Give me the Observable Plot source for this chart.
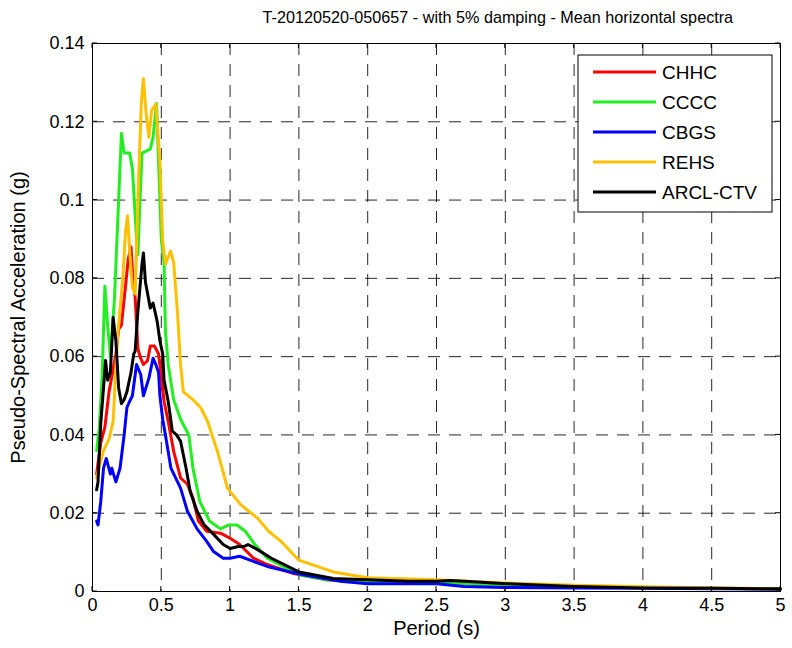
<!DOCTYPE html>
<html>
<head>
<meta charset="utf-8">
<script src="https://cdn.jsdelivr.net/npm/d3@7"></script>
<script src="https://cdn.jsdelivr.net/npm/@observablehq/plot@0.6"></script>
<style>
  html, body { margin: 0; padding: 0; background: #fff; }
  #chart { width: 792px; height: 648px; position: relative; }
</style>
</head>
<body>
<div id="chart"></div>
<script>
const titleText = "T-20120520-050657 - with 5% damping - Mean horizontal spectra";
const xLabel = "Period (s)";
const yLabel = "Pseudo-Spectral Acceleration (g)";

const seriesNames = ["CHHC", "CCCC", "CBGS", "REHS", "ARCL-CTV"];
const seriesColors = ["#ff0000", "#22ee22", "#0000ff", "#ffc000", "#000000"];

const xTicks = [0, 0.5, 1, 1.5, 2, 2.5, 3, 3.5, 4, 4.5, 5];
const xTickLabels = ["0", "0.5", "1", "1.5", "2", "2.5", "3", "3.5", "4", "4.5", "5"];
const yTicks = [0, 0.02, 0.04, 0.06, 0.08, 0.1, 0.12, 0.14];
const yTickLabels = ["0", "0.02", "0.04", "0.06", "0.08", "0.1", "0.12", "0.14"];

// [period (s), PSA (g)]
const CHHC = [[0.03,0.030],[0.06,0.038],[0.09,0.042],[0.12,0.051],[0.17,0.0607],[0.19,0.067],[0.21,0.068],[0.24,0.078],[0.26,0.085],[0.28,0.088],[0.29,0.082],[0.31,0.075],[0.33,0.062],[0.35,0.0596],[0.37,0.058],[0.40,0.059],[0.42,0.0627],[0.45,0.0627],[0.48,0.0607],[0.50,0.055],[0.52,0.0486],[0.55,0.0435],[0.59,0.0358],[0.64,0.029],[0.69,0.0274],[0.73,0.0238],[0.77,0.018],[0.83,0.0154],[0.93,0.0149],[1.0,0.0136],[1.07,0.012],[1.17,0.0085],[1.27,0.0069],[1.46,0.0046],[1.7,0.003],[2.0,0.0025],[2.5,0.0022],[3.0,0.0018],[3.5,0.0012],[4.0,0.001],[4.5,0.0008],[5.0,0.0007]];

const CCCC = [[0.03,0.036],[0.05,0.042],[0.07,0.055],[0.09,0.078],[0.11,0.068],[0.13,0.060],[0.16,0.075],[0.19,0.100],[0.21,0.117],[0.23,0.112],[0.27,0.112],[0.29,0.108],[0.32,0.090],[0.33,0.086],[0.345,0.100],[0.36,0.112],[0.42,0.113],[0.44,0.116],[0.465,0.1247],[0.48,0.110],[0.50,0.090],[0.52,0.084],[0.53,0.0665],[0.55,0.058],[0.59,0.049],[0.64,0.044],[0.70,0.040],[0.73,0.0315],[0.78,0.023],[0.85,0.018],[0.93,0.016],[0.99,0.017],[1.05,0.017],[1.11,0.0154],[1.18,0.012],[1.27,0.0085],[1.5,0.0043],[1.7,0.003],[2.0,0.0026],[2.5,0.0022],[3.0,0.0017],[3.5,0.0012],[4.0,0.001],[4.5,0.0008],[5.0,0.0007]];

const CBGS = [[0.03,0.018],[0.04,0.017],[0.06,0.023],[0.08,0.0315],[0.10,0.034],[0.13,0.030],[0.14,0.0315],[0.17,0.028],[0.20,0.0315],[0.23,0.040],[0.25,0.047],[0.27,0.0486],[0.29,0.050],[0.32,0.058],[0.35,0.0555],[0.37,0.050],[0.41,0.0545],[0.44,0.0596],[0.46,0.058],[0.48,0.056],[0.49,0.050],[0.51,0.044],[0.53,0.040],[0.57,0.0315],[0.64,0.0264],[0.69,0.0205],[0.76,0.016],[0.83,0.0128],[0.88,0.0102],[0.95,0.0085],[1.0,0.0085],[1.07,0.009],[1.17,0.0077],[1.27,0.0064],[1.51,0.0044],[1.8,0.0026],[2.0,0.002],[2.5,0.002],[2.7,0.0013],[3.0,0.001],[3.5,0.0009],[4.0,0.0008],[4.5,0.0007],[5.0,0.0006]];

const REHS = [[0.03,0.029],[0.05,0.032],[0.08,0.036],[0.12,0.039],[0.15,0.0435],[0.18,0.064],[0.22,0.080],[0.24,0.092],[0.255,0.096],[0.27,0.087],[0.29,0.0776],[0.31,0.076],[0.33,0.100],[0.355,0.125],[0.37,0.131],[0.39,0.122],[0.41,0.116],[0.43,0.123],[0.46,0.1245],[0.49,0.110],[0.51,0.0896],[0.53,0.0837],[0.567,0.087],[0.59,0.084],[0.618,0.071],[0.64,0.058],[0.66,0.051],[0.73,0.049],[0.785,0.047],[0.836,0.0435],[0.908,0.0358],[0.981,0.0264],[1.076,0.0222],[1.2,0.0187],[1.28,0.0154],[1.37,0.0128],[1.5,0.008],[1.75,0.005],[2.0,0.0035],[2.2,0.0033],[2.5,0.003],[3.0,0.0022],[3.5,0.0016],[4.0,0.0012],[4.5,0.0009],[5.0,0.0007]];

const ARCL_CTV = [[0.03,0.026],[0.04,0.028],[0.06,0.043],[0.08,0.052],[0.095,0.059],[0.11,0.054],[0.13,0.056],[0.15,0.070],[0.17,0.064],[0.19,0.052],[0.21,0.048],[0.23,0.049],[0.25,0.051],[0.28,0.056],[0.30,0.0607],[0.31,0.0614],[0.33,0.0717],[0.36,0.0837],[0.37,0.0865],[0.385,0.079],[0.42,0.0724],[0.44,0.0737],[0.47,0.069],[0.49,0.064],[0.51,0.0607],[0.52,0.054],[0.55,0.0486],[0.58,0.041],[0.61,0.040],[0.64,0.0384],[0.68,0.0315],[0.71,0.0256],[0.76,0.0205],[0.81,0.0171],[0.88,0.0146],[0.95,0.012],[1.0,0.011],[1.06,0.0115],[1.1,0.0115],[1.13,0.012],[1.2,0.0107],[1.3,0.0085],[1.5,0.005],[1.75,0.0033],[2.0,0.003],[2.3,0.0026],[2.5,0.0026],[2.6,0.0028],[2.8,0.0024],[3.0,0.002],[3.5,0.0013],[4.0,0.0009],[4.5,0.0008],[5.0,0.0007]];

const seriesData = [CHHC, CCCC, CBGS, REHS, ARCL_CTV];
const rows = seriesData.flatMap((arr, i) => arr.map(([t, a]) => ({series: seriesNames[i], t, a})));

const FONT = "'Liberation Sans', Arial, Helvetica, sans-serif";

const plot = Plot.plot({
  width: 792,
  height: 648,
  marginLeft: 92,
  marginRight: 12,
  marginTop: 43,
  marginBottom: 57,
  style: {fontFamily: FONT, fontSize: "18px", background: "#fff", color: "#000"},
  x: {domain: [0, 5]},
  y: {domain: [0, 0.14]},
  color: {domain: seriesNames, range: seriesColors},
  marks: [
    Plot.gridX(xTicks, {stroke: "#000", strokeOpacity: 0.85, strokeDasharray: "12,9", strokeWidth: 1}),
    Plot.gridY(yTicks, {stroke: "#000", strokeOpacity: 0.85, strokeDasharray: "12,9", strokeWidth: 1}),
    Plot.axisX(xTicks, {anchor: "bottom", tickSize: 0, tickPadding: 7, tickFormat: (d, i) => xTickLabels[i], label: null, fontSize: 18}),
    Plot.axisY(yTicks, {anchor: "left", tickSize: 0, tickPadding: 8, tickFormat: (d, i) => yTickLabels[i], label: null, fontSize: 18}),
    Plot.line(rows, {x: "t", y: "a", z: "series", stroke: "series", strokeWidth: 3, curve: "linear"}),
    Plot.frame({stroke: "#000", strokeWidth: 1}),
    Plot.text([titleText], {frameAnchor: "top-left", textAnchor: "start", dx: 170, dy: -32, fontSize: 16.2}),
    Plot.text([xLabel], {frameAnchor: "bottom", textAnchor: "middle", dy: 43, fontSize: 20}),
    Plot.text([yLabel], {frameAnchor: "left", textAnchor: "middle", rotate: -90, dx: -74, fontSize: 20})
  ]
});

document.getElementById("chart").appendChild(plot);

// inward tick marks on all four sides
const svg = d3.select(plot);
const xs = plot.scale("x"), ys = plot.scale("y");
const L = 92, R = 780, T = 43, B = 591, tk = 5;
const tg = svg.append("g").attr("stroke", "#000").attr("stroke-width", 1);
xTicks.forEach(v => {
  const px = xs.apply(v);
  tg.append("line").attr("x1", px).attr("x2", px).attr("y1", B).attr("y2", B - tk);
  tg.append("line").attr("x1", px).attr("x2", px).attr("y1", T).attr("y2", T + tk);
});
yTicks.forEach(v => {
  const py = ys.apply(v);
  tg.append("line").attr("x1", L).attr("x2", L + tk).attr("y1", py).attr("y2", py);
  tg.append("line").attr("x1", R).attr("x2", R - tk).attr("y1", py).attr("y2", py);
});

// legend
const lg = svg.append("g").attr("transform", "translate(578,55)");
lg.append("rect").attr("width", 194).attr("height", 157).attr("fill", "#fff").attr("stroke", "#000").attr("stroke-width", 1);
seriesNames.forEach((name, i) => {
  const yy = 17 + i * 30;
  lg.append("line").attr("x1", 15).attr("x2", 78).attr("y1", yy).attr("y2", yy)
    .attr("stroke", seriesColors[i]).attr("stroke-width", 3);
  lg.append("text").attr("x", 84).attr("y", yy).attr("dy", "0.35em")
    .attr("text-anchor", "start")
    .attr("font-family", FONT).attr("font-size", 19).attr("fill", "#000").text(name);
});
</script>
</body>
</html>
